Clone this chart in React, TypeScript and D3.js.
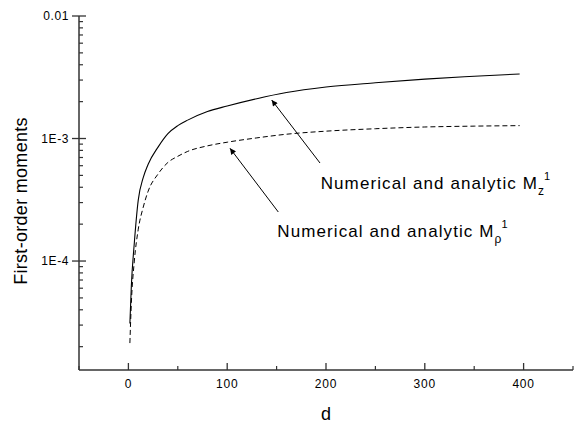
import React from "react";
import * as d3 from "d3";

// d values
const dValues = [1.5, 3, 6, 10, 15, 20, 30, 40, 50, 60, 80, 100, 130, 160, 200, 250, 300, 350, 396];
// M_z^1 (solid)
const mzValues = [3.09e-5, 6.31e-5, 1.41e-4, 3.16e-4, 4.79e-4, 6.17e-4, 8.51e-4, 1.096e-3, 1.274e-3, 1.413e-3, 1.66e-3, 1.841e-3, 2.113e-3, 2.371e-3, 2.63e-3, 2.851e-3, 3.055e-3, 3.221e-3, 3.365e-3];
// M_rho^1 (dashed)
const mrhoValues = [2.14e-5, 4.57e-5, 1.0e-4, 1.82e-4, 2.75e-4, 3.72e-4, 5.13e-4, 6.38e-4, 7.16e-4, 7.85e-4, 8.71e-4, 9.33e-4, 1.012e-3, 1.084e-3, 1.148e-3, 1.202e-3, 1.242e-3, 1.262e-3, 1.274e-3];

const xMajor = [0, 100, 200, 300, 400];
const xMinor = [-50, 50, 150, 250, 350, 450];
const yMajor = [1e-4, 1e-3, 1e-2];
const yLabels = ["1E-4", "1E-3", "0.01"];

const W = 582;
const H = 424;
const FONT = "'Liberation Sans', Arial, Helvetica, sans-serif";

const App = () => {
  //    scales
  const x = d3.scaleLinear().domain([-50, 450]).range([79, 573]);
  const y = d3.scaleLog().domain([1.29e-5, 0.01]).range([370, 16]);

  // minor log ticks 2..9 x 10^k
  const yMinor: number[] = [];
  for (let k = -5; k <= -3; k++) {
    for (let m = 2; m <= 9; m++) {
      const v = m * Math.pow(10, k);
      if (v >= 1.29e-5 && v <= 0.01) yMinor.push(v);
    }
  }

  const line = d3
    .line<number>()
    .x((d, i) => x(dValues[i]))
    .y((d) => y(d))
    .curve(d3.curveMonotoneX);

  const axisColor = "#333";

  return (
    <svg width={W} height={H} style={{ position: "absolute", left: 0, top: 0, background: "#fff" }}>
      <defs>
        <marker id="arr" viewBox="0 0 10 10" refX="10" refY="5" markerWidth="9" markerHeight="6" markerUnits="userSpaceOnUse" orient="auto">
          <path d="M0,0 L10,5 L0,10 z" fill="#000" />
        </marker>
      </defs>

      {/* curves */}
      <path d={line(mzValues) || ""} fill="none" stroke="#000" strokeWidth={1.1} />
      <path d={line(mrhoValues) || ""} fill="none" stroke="#000" strokeWidth={1} strokeDasharray="5,3" />

      {/* axes */}
      <line x1={79} x2={79} y1={16} y2={370} stroke={axisColor} strokeWidth={1.5} />
      <line x1={79} x2={573} y1={370} y2={370} stroke={axisColor} strokeWidth={1.5} />

      {yMajor.map((v, i) => (
        <g key={"ym" + i}>
          <line x1={72} x2={86} y1={y(v)} y2={y(v)} stroke={axisColor} strokeWidth={1.3} />
          <text x={69} y={y(v) + 4} textAnchor="end" fontFamily={FONT} fontSize={12} letterSpacing={0.6}>
            {yLabels[i]}
          </text>
        </g>
      ))}
      {yMinor.map((v, i) => (
        <line key={"yn" + i} x1={79} x2={83} y1={y(v)} y2={y(v)} stroke={axisColor} strokeWidth={1.2} />
      ))}

      {xMajor.map((v) => (
        <g key={"xm" + v}>
          <line x1={x(v)} x2={x(v)} y1={370} y2={363} stroke={axisColor} strokeWidth={1.3} />
          <text x={x(v)} y={388} textAnchor="middle" fontFamily={FONT} fontSize={12} letterSpacing={0.8}>
            {v}
          </text>
        </g>
      ))}
      {xMinor.map((v) => (
        <line key={"xn" + v} x1={x(v)} x2={x(v)} y1={370} y2={366} stroke={axisColor} strokeWidth={1.2} />
      ))}

      {/* axis titles */}
      <text x={326} y={420} textAnchor="middle" fontFamily={FONT} fontSize={18}>
        d
      </text>
      <text
        transform="translate(27,201) rotate(-90)"
        textAnchor="middle"
        fontFamily={FONT}
        fontSize={18}
        letterSpacing={0.3}
      >
        First-order moments
      </text>

      {/* annotations */}
      <line x1={320} y1={163} x2={271.7} y2={100} stroke="#000" strokeWidth={1} markerEnd="url(#arr)" />
      <line x1={278.3} y1={212} x2={230} y2={148.3} stroke="#000" strokeWidth={1} markerEnd="url(#arr)" />

      <text x={320.7} y={189} fontFamily={FONT} fontSize={17} letterSpacing={1.1}>
        Numerical and analytic M
        <tspan fontSize={12} dy={6} letterSpacing={0}>z</tspan>
        <tspan fontSize={11} dy={-15} letterSpacing={0}>1</tspan>
      </text>
      <text x={277.3} y={237} fontFamily={FONT} fontSize={17} letterSpacing={1.1}>
        Numerical and analytic M
        <tspan fontSize={12} dy={6} letterSpacing={0}>ρ</tspan>
        <tspan fontSize={11} dy={-15} letterSpacing={0}>1</tspan>
      </text>
    </svg>
  );
};

export default App;
